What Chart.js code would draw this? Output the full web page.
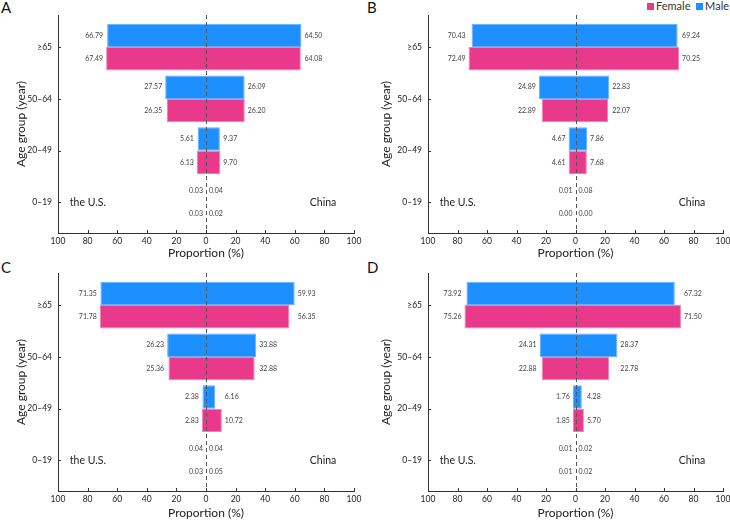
<!DOCTYPE html>
<html>
<head>
<meta charset="utf-8">
<script src="https://cdn.jsdelivr.net/npm/chart.js@4.4.1/dist/chart.umd.min.js"></script>
<style>
  html, body { margin: 0; padding: 0; background: #fff; overflow: hidden; }
  body { width: 730px; height: 520px; position: relative; font-family: Lato, sans-serif; }
  canvas { position: absolute; }
  .tag { position: absolute; font-size: 15px; color: #111; line-height: 1; }
  .legend { position: absolute; top: 0; left: 647px; font-size: 11px; color: #333; line-height: 11px; white-space: nowrap; }
  .legend span.box { display: inline-block; width: 7px; height: 7px; margin-right: 2px; vertical-align: 0px; }
</style>
</head>
<body>
<div class="tag" style="left:1px;top:0px">A</div>
<div class="tag" style="left:367px;top:0px">B</div>
<div class="tag" style="left:1px;top:260px">C</div>
<div class="tag" style="left:367px;top:260px">D</div>
<div class="legend"><span class="box" style="background:#e8398a"></span>Female&nbsp;&nbsp;<span class="box" style="background:#1e8fff"></span>Male</div>

<canvas id="chartA" width="365" height="260" style="left:0;top:0"></canvas>
<canvas id="chartB" width="375" height="260" style="left:365px;top:0"></canvas>
<canvas id="chartC" width="365" height="260" style="left:0;top:260px"></canvas>
<canvas id="chartD" width="375" height="260" style="left:365px;top:260px"></canvas>

<script>
// age groups, top to bottom
const ageGroups = ['≥65', '50–64', '20–49', '0–19'];
const panels = ['A', 'B', 'C', 'D'];

// one row per panel (A, B, C, D), values per age group
const usMale = [
  [66.79, 27.57, 5.61, 0.03],
  [70.43, 24.89, 4.67, 0.01],
  [71.35, 26.23, 2.38, 0.04],
  [73.92, 24.31, 1.76, 0.01]
];
const chinaMale = [
  [64.50, 26.09, 9.37, 0.04],
  [69.24, 22.83, 7.86, 0.08],
  [59.93, 33.88, 6.16, 0.04],
  [67.32, 28.37, 4.28, 0.02]
];
const usFemale = [
  [67.49, 26.35, 6.13, 0.03],
  [72.49, 22.89, 4.61, 0.00],
  [71.78, 25.36, 2.83, 0.03],
  [75.26, 22.88, 1.85, 0.01]
];
const chinaFemale = [
  [64.08, 26.20, 9.70, 0.02],
  [70.25, 22.07, 7.68, 0.00],
  [56.35, 32.88, 10.72, 0.05],
  [71.50, 22.78, 5.70, 0.02]
];
const xTicks = [-100, -80, -60, -40, -20, 0, 20, 40, 60, 80, 100];

const BLUE = '#1e8fff', BLUE_EDGE = '#66b0fb';
const PINK = '#e8398a', PINK_EDGE = '#f27fb3';

// labels, zero line, inward ticks, country names
const decorPlugin = {
  id: 'decor',
  afterDatasetsDraw(chart) {
    const ctx = chart.ctx;
    const xs = chart.scales.x, ys = chart.scales.y;
    const area = chart.chartArea;
    const p = chart.options.plugins.decor.panel;

    // dashed zero line
    ctx.save();
    ctx.strokeStyle = '#555';
    ctx.lineWidth = 1;
    ctx.setLineDash([4, 3]);
    const x0 = Math.round(xs.getPixelForValue(0)) + 0.5;
    ctx.beginPath();
    ctx.moveTo(x0, area.top);
    ctx.lineTo(x0, area.bottom);
    ctx.stroke();
    ctx.restore();

    // value labels, aligned on the longer bar of each group
    ctx.save();
    ctx.font = '7px Lato';
    ctx.fillStyle = '#444';
    ctx.textBaseline = 'middle';
    const series = [[usMale[p], chinaMale[p]], [usFemale[p], chinaFemale[p]]];
    ageGroups.forEach((g, i) => {
      const leftX = xs.getPixelForValue(-Math.max(usMale[p][i], usFemale[p][i])) - 3;
      const rightX = xs.getPixelForValue(Math.max(chinaMale[p][i], chinaFemale[p][i])) + 3;
      series.forEach((s, d) => {
        const bar = chart.getDatasetMeta(d).data[i];
        ctx.textAlign = 'right';
        ctx.fillText(s[0][i].toFixed(2), leftX, bar.y);
        ctx.textAlign = 'left';
        ctx.fillText(s[1][i].toFixed(2), rightX, bar.y);
      });
    });
    ctx.restore();

    // country names on the youngest row
    ctx.save();
    ctx.font = '10.5px Lato';
    ctx.fillStyle = '#222';
    ctx.textBaseline = 'middle';
    const yRow = ys.getPixelForValue(0);
    ctx.textAlign = 'left';
    ctx.fillText('the U.S.', xs.getPixelForValue(-92), yRow);
    ctx.textAlign = 'right';
    ctx.fillText('China', xs.getPixelForValue(88), yRow);
    ctx.restore();

    // small inward tick marks
    ctx.save();
    ctx.strokeStyle = '#333';
    ctx.lineWidth = 1;
    ctx.beginPath();
    xs.ticks.forEach(t => {
      const x = Math.round(xs.getPixelForValue(t.value)) + 0.5;
      ctx.moveTo(x, area.bottom);
      ctx.lineTo(x, area.bottom - 3);
    });
    ys.ticks.forEach(t => {
      const y = Math.round(ys.getPixelForValue(t.value)) + 0.5;
      ctx.moveTo(area.left, y);
      ctx.lineTo(area.left + 3, y);
    });
    ctx.stroke();
    ctx.restore();
  }
};

function makePanel(p) {
  const right = p % 2 === 1;
  const bottom = p >= 2;
  const toPoints = (us, cn) => ageGroups.map((g, i) => ({ y: ageGroups.length - 1 - i, x: [-us[p][i], cn[p][i]] }));
  const ctx = document.getElementById('chart' + panels[p]).getContext('2d');

  return new Chart(ctx, {
    type: 'bar',
    data: {
      datasets: [
        {
          label: 'Male',
          data: toPoints(usMale, chinaMale),
          backgroundColor: BLUE,
          borderColor: BLUE_EDGE,
          borderWidth: 1,
          borderSkipped: false
        },
        {
          label: 'Female',
          data: toPoints(usFemale, chinaFemale),
          backgroundColor: PINK,
          borderColor: PINK_EDGE,
          borderWidth: 1,
          borderSkipped: false
        }
      ]
    },
    options: {
      indexAxis: 'y',
      responsive: false,
      animation: false,
      categoryPercentage: 0.9,
      barPercentage: 1,
      layout: { padding: { left: 0, right: right ? 17 : 11, top: bottom ? 13 : 15, bottom: 0 } },
      plugins: {
        legend: { display: false },
        tooltip: { enabled: false },
        decor: { panel: p }
      },
      scales: {
        x: {
          type: 'linear',
          min: -100,
          max: 100,
          afterBuildTicks: s => { s.ticks = xTicks.map(v => ({ value: v })); },
          afterFit: s => { s.height = bottom ? 29 : 27; },
          grid: { display: true, drawOnChartArea: false, drawTicks: false },
          border: { display: true, color: '#333', width: 1 },
          ticks: {
            autoSkip: false,
            maxRotation: 0,
            padding: 3,
            color: '#222',
            font: { family: 'Lato', size: 8.5 },
            callback: v => Math.abs(v)
          },
          title: {
            display: true,
            text: 'Proportion (%)',
            color: '#222',
            padding: { top: 0, bottom: 0 },
            font: { family: 'Lato', size: 12, lineHeight: 1.1 }
          }
        },
        y: {
          type: 'linear',
          offset: false,
          min: -0.59,
          max: 3.62,
          afterBuildTicks: s => { s.ticks = ageGroups.map((g, i) => ({ value: i })); },
          afterFit: s => { s.width = right ? 63 : 58; },
          grid: { display: true, offset: false, drawOnChartArea: false, drawTicks: false },
          border: { display: true, color: '#333', width: 1 },
          ticks: {
            autoSkip: false,
            padding: 6,
            color: '#222',
            font: { family: 'Lato', size: 8.5 },
            callback: v => ageGroups[ageGroups.length - 1 - v]
          },
          title: {
            display: true,
            text: 'Age group (year)',
            color: '#222',
            padding: { top: 15, bottom: 0 },
            font: { family: 'Lato', size: 12, lineHeight: 1 }
          }
        }
      }
    },
    plugins: [decorPlugin]
  });
}

panels.forEach((name, p) => makePanel(p));
</script>
</body>
</html>
